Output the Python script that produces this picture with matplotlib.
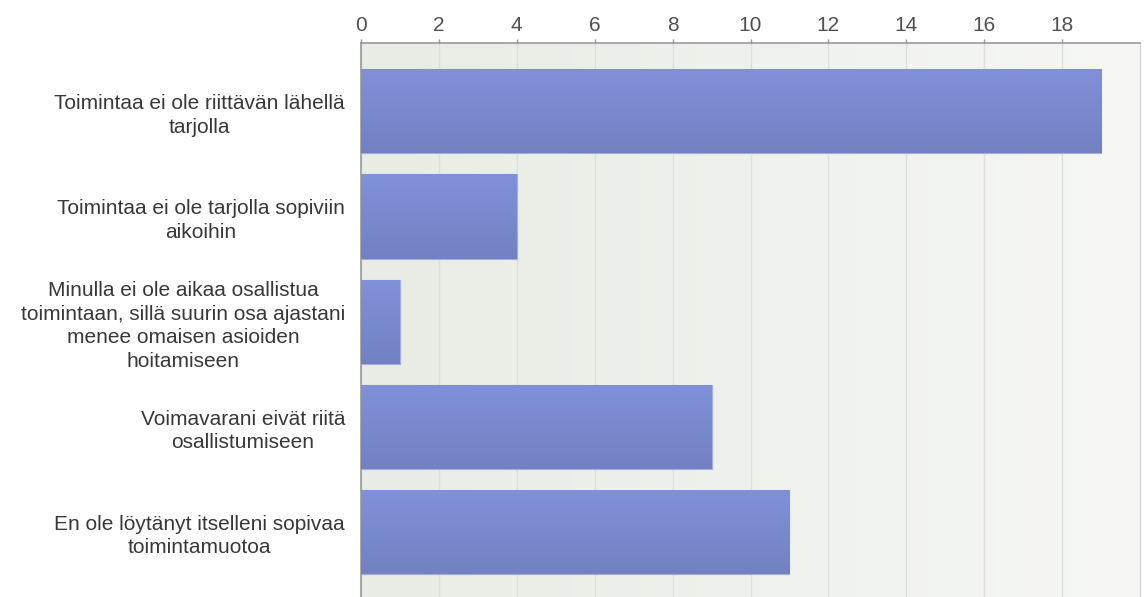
import numpy as np
import matplotlib
matplotlib.use("Agg")
import matplotlib.pyplot as plt
from matplotlib.colors import LinearSegmentedColormap

plt.rcParams['font.family'] = ['Liberation Sans', 'DejaVu Sans']

categories = [
    "Toimintaa ei ole riittävän lähellä\ntarjolla",
    "Toimintaa ei ole tarjolla sopiviin\naikoihin",
    "Minulla ei ole aikaa osallistua\ntoimintaan, sillä suurin osa ajastani\nmenee omaisen asioiden\nhoitamiseen",
    "Voimavarani eivät riitä\nosallistumiseen",
    "En ole löytänyt itselleni sopivaa\ntoimintamuotoa",
]
values = [19, 4, 1, 9, 11]
x_ticks = [0, 2, 4, 6, 8, 10, 12, 14, 16, 18]

fig = plt.figure(figsize=(11.46, 5.97), dpi=100)
ax = fig.add_axes([361 / 1146, 0.0, (1140 - 361) / 1146, 1 - 43 / 597])

# plot-area background: soft horizontal gradient
bg_cmap = LinearSegmentedColormap.from_list("bg", ["#e8ece4", "#f6f7f4"])
ax.imshow(np.linspace(0, 1, 256).reshape(1, -1), cmap=bg_cmap, aspect="auto",
          extent=[0, 1, 0, 1], transform=ax.transAxes, zorder=0)

y = np.arange(len(categories))
bars = ax.barh(y, values, height=0.8, color="#7888cc", edgecolor="#a4ace0",
               linewidth=0.8, zorder=3)

# vertical gradient inside each bar
bar_cmap = LinearSegmentedColormap.from_list("bar", ["#8191d9", "#7181c2"])
grad = np.linspace(0, 1, 128).reshape(-1, 1)
for b in bars:
    x0, y0 = b.get_x(), b.get_y()
    w, h = b.get_width(), b.get_height()
    im = ax.imshow(grad, cmap=bar_cmap, aspect="auto",
                   extent=[x0, x0 + w, y0 + h, y0], zorder=3.5)
    im.set_clip_path(b)

ax.set_xlim(0, 20)
ax.set_ylim(len(categories) - 1 + 0.62, -0.65)

ax.xaxis.tick_top()
ax.set_xticks(x_ticks)
ax.set_xticklabels([str(t) for t in x_ticks], fontsize=15, color="#505050")
ax.tick_params(axis="x", length=3, width=1, color="#999999", pad=3)
ax.grid(axis="x", color="#dcdfe0", linewidth=1, zorder=1)

ax.set_yticks(y)
ax.set_yticklabels(categories, fontsize=15, color="#383838",
                   multialignment="center", linespacing=1.3)
ax.tick_params(axis="y", length=0, pad=11.5)

for side in ("top", "left"):
    ax.spines[side].set_color("#999999")
    ax.spines[side].set_linewidth(1.2)
ax.spines["right"].set_color("#d0d0d0")
ax.spines["bottom"].set_visible(False)

fig.savefig("out.png", dpi=100)
